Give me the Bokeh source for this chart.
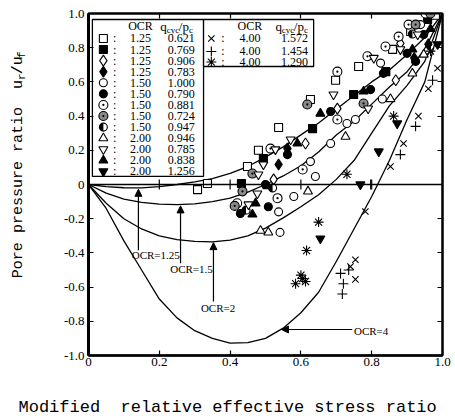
import numpy as np
from bokeh.plotting import figure
from bokeh.layouts import column, row
from bokeh.models import (Range1d, LinearAxis, FixedTicker, CustomJSTickFormatter,
                          Span, Label, Arrow, NormalHead)
from bokeh.core.properties import value
from bokeh.embed import file_html
from bokeh.resources import INLINE

# ---------------- data ----------------
curve_x = [0, 0.05, 0.1, 0.15, 0.2, 0.25, 0.3, 0.35, 0.4, 0.45, 0.5,
           0.55, 0.6, 0.65, 0.7, 0.75, 0.8, 0.85, 0.9, 0.95, 1.0]
ocr125_y = [0, -0.012, -0.019, -0.02, -0.013, 0.0, 0.015, 0.035, 0.065, 0.105, 0.16,
            0.22, 0.29, 0.36, 0.44, 0.52, 0.60, 0.67, 0.76, 0.86, 1.0]
ocr150_y = [0, -0.05, -0.085, -0.105, -0.115, -0.118, -0.113, -0.1, -0.08, -0.045, 0.0,
            0.05, 0.11, 0.19, 0.29, 0.37, 0.47, 0.57, 0.66, 0.79, 1.0]
ocr200_y = [0, -0.11, -0.2, -0.26, -0.3, -0.322, -0.333, -0.335, -0.325, -0.3, -0.255,
            -0.195, -0.13, -0.06, 0.03, 0.14, 0.3, 0.46, 0.58, 0.72, 1.0]
ocr400_y = [0, -0.14, -0.33, -0.5, -0.67, -0.78, -0.855, -0.9, -0.928, -0.925, -0.9,
            -0.84, -0.75, -0.63, -0.45, -0.26, -0.07, 0.14, 0.38, 0.6, 1.0]

# series (OCR, q_cyc/p_c)
sq_open_x = [0.308, 0.336, 0.449, 0.48, 0.537, 0.627, 0.698, 0.763, 0.859, 0.91, 0.98]
sq_open_y = [-0.03, 0.006, 0.105, 0.2, 0.333, 0.497, 0.61, 0.69, 0.79, 0.895, 0.99]
sq_fill_x = [0.432, 0.494, 0.633, 0.749, 0.84, 0.958]
sq_fill_y = [0.006, 0.152, 0.327, 0.526, 0.66, 0.965]
dia_open_x = [0.523, 0.613, 0.703, 0.868, 0.881, 0.955]
dia_open_y = [0.03, 0.24, 0.444, 0.61, 0.825, 0.78]
dia_fill_x = [0.537, 0.562, 0.92, 0.96]
dia_fill_y = [0.117, 0.21, 0.74, 0.82]
circ_open_x = [0.541, 0.537, 0.58, 0.641, 0.627, 0.684, 0.73, 0.754, 0.83, 0.825, 0.938]
circ_open_y = [-0.28, -0.16, -0.07, 0.047, 0.134, 0.24, 0.357, 0.38, 0.5, 0.71, 0.935]
circ_fill_x = [0.429, 0.508, 0.5, 0.562, 0.684, 0.797, 0.833, 0.9, 0.924, 0.947]
circ_fill_y = [-0.17, -0.13, 0.0, 0.175, 0.427, 0.555, 0.65, 0.767, 0.72, 0.877]
circ_dot_x = [0.42, 0.534, 0.605, 0.514, 0.703, 0.703, 0.788, 0.839, 0.876, 0.904, 0.952]
circ_dot_y = [-0.11, -0.08, 0.088, 0.21, 0.38, 0.66, 0.75, 0.807, 0.865, 0.935, 1.0]
circ_shade_x = [0.435, 0.413, 0.463, 0.618, 0.777, 0.924, 0.966]
circ_shade_y = [-0.04, -0.125, 0.064, 0.468, 0.474, 0.935, 1.0]
circ_half_x = [0.445, 0.52, 0.915]
circ_half_y = [-0.15, -0.02, 0.88]
tri_up_x = [0.486, 0.508, 0.62, 0.726, 0.853, 0.915, 0.947]
tri_up_y = [-0.27, -0.28, -0.04, 0.28, 0.5, 0.65, 0.76]
tri_dn_x = [0.452, 0.477, 0.48, 0.494, 0.528, 0.571, 0.692, 0.79, 0.806, 0.881, 0.93]
tri_dn_y = [-0.117, -0.053, 0.058, 0.117, 0.205, 0.263, 0.526, 0.444, 0.74, 0.79, 0.877]
tri_up_fill_x = [0.463, 0.472, 0.505, 0.59, 0.655, 0.777, 0.915, 0.966]
tri_up_fill_y = [-0.175, -0.11, -0.01, 0.24, 0.415, 0.544, 0.79, 0.91]
tri_dn_fill_x = [0.655, 0.768, 0.82, 0.872, 0.986]
tri_dn_fill_y = [-0.316, 0.0, 0.193, 0.357, 0.82]
x_mark_x = [0.754, 0.74, 0.754, 0.782, 0.853, 0.89, 0.932, 0.96, 0.986]
x_mark_y = [-0.44, -0.48, -0.555, -0.158, 0.105, 0.24, 0.4, 0.56, 0.68]
plus_x = [0.712, 0.735, 0.72, 0.717, 0.797, 0.881, 0.924, 0.972]
plus_y = [-0.52, -0.5, -0.58, -0.64, 0.0, 0.175, 0.34, 0.61]
star_x = [0.6, 0.613, 0.585, 0.605, 0.616, 0.65, 0.73, 0.862, 0.966]
star_y = [-0.53, -0.567, -0.58, -0.55, -0.386, -0.22, 0.06, 0.4, 0.78]

legend1_ocr = [1.25, 1.25, 1.25, 1.25, 1.50, 1.50, 1.50, 1.50, 1.50, 2.00, 2.00, 2.00, 2.00]
legend1_q = [0.621, 0.769, 0.906, 0.783, 1.000, 0.790, 0.881, 0.724, 0.947, 0.946, 0.785, 0.838, 1.256]
legend2_ocr = [4.00, 4.00, 4.00]
legend2_q = [1.572, 1.454, 1.290]

x_ticks = [0, 0.2, 0.4, 0.6, 0.8, 1.0]
y_ticks = [-1.0, -0.8, -0.6, -0.4, -0.2, 0, 0.2, 0.4, 0.6, 0.8, 1.0]
zero_line_ticks = [0.2, 0.4, 0.6, 0.8]

x_title = "Modified\u00a0 relative effective stress ratio"
y_title_main = "Pore pressure ratio\u00a0 u"
y_title_tail = ["r", "/u", "f"]

# ---------------- main figure ----------------
p = figure(width=405, height=380, output_backend="svg", toolbar_location=None,
           x_range=Range1d(0, 1), y_range=Range1d(-1, 1),
           min_border_left=38, min_border_right=13, min_border_top=13, min_border_bottom=25,
           x_axis_type=None, y_axis_type=None)
p.grid.visible = False
p.outline_line_color = "black"
p.outline_line_width = 2
p.background_fill_color = "white"
p.border_fill_color = "white"

fmt = CustomJSTickFormatter(code="return tick == 0 ? '0' : tick.toFixed(1);")
blank = CustomJSTickFormatter(code="return '';")

def make_axis(ticks, formatter, lw):
    ax = LinearAxis(ticker=FixedTicker(ticks=ticks), formatter=formatter)
    ax.axis_line_width = lw
    ax.major_tick_in = 5
    ax.major_tick_out = 0
    ax.major_tick_line_width = 1.2
    ax.minor_tick_line_color = None
    ax.major_label_text_font = "Liberation Serif"
    ax.major_label_text_font_size = "13px"
    ax.major_label_text_color = "black"
    return ax

bax = make_axis(x_ticks, fmt, 2.5)
bax.major_label_standoff = 2
p.add_layout(bax, "below")
lax = make_axis(y_ticks, fmt, 3)
lax.major_label_standoff = 4
p.add_layout(lax, "left")
tax = make_axis(x_ticks, blank, 2)
tax.major_label_text_font_size = "0px"
p.add_layout(tax, "above")
rax = make_axis(y_ticks, blank, 2)
rax.major_label_text_font_size = "0px"
p.add_layout(rax, "right")

# zero line with tick marks
p.add_layout(Span(location=0, dimension="width", line_color="black", line_width=1.4))
p.scatter(zero_line_ticks, [0] * len(zero_line_ticks), marker="dash", angle=np.pi / 2,
          size=10, line_color="black", line_width=1.2)

# curves
for cy in (ocr125_y, ocr150_y, ocr200_y, ocr400_y):
    p.line(curve_x, cy, line_color="black", line_width=1.3)

# data markers
series = [
    (sq_open_x, sq_open_y, "square", "white", 8),
    (sq_fill_x, sq_fill_y, "square", "black", 8),
    (dia_open_x, dia_open_y, "diamond", "white", 11),
    (dia_fill_x, dia_fill_y, "diamond", "black", 11),
    (circ_open_x, circ_open_y, "circle", "white", 8),
    (circ_fill_x, circ_fill_y, "circle", "black", 8),
    (circ_dot_x, circ_dot_y, "circle_dot", "white", 9),
    (circ_shade_x, circ_shade_y, "circle_dot", "#8a8a8a", 9),
    (circ_half_x, circ_half_y, "circle", "white", 8),
    (tri_up_x, tri_up_y, "triangle", "white", 9),
    (tri_dn_x, tri_dn_y, "inverted_triangle", "white", 9),
    (tri_up_fill_x, tri_up_fill_y, "triangle", "black", 9),
    (tri_dn_fill_x, tri_dn_fill_y, "inverted_triangle", "black", 9),
    (x_mark_x, x_mark_y, "x", None, 9),
    (plus_x, plus_y, "cross", None, 10),
    (star_x, star_y, "asterisk", None, 10),
]
for sx, sy, mk, fc, sz in series:
    p.scatter(sx, sy, marker=mk, size=sz, fill_color=fc, line_color="black", line_width=1.1)
p.wedge(circ_half_x, circ_half_y, radius=4, radius_units="screen",
        start_angle=np.pi / 2, end_angle=3 * np.pi / 2, fill_color="black", line_color=None)

# ---------------- legend tables ----------------
p.quad(left=[0.011], right=[0.325], top=[0.965], bottom=[0.047],
       fill_color="white", line_color="black", line_width=1.3)
p.quad(left=[0.325], right=[0.636], top=[0.965], bottom=[0.69],
       fill_color="white", line_color="black", line_width=1.3)

row_y1 = [0.854 - 0.0648 * i for i in range(len(legend1_ocr))]
row_y2 = [0.854, 0.778, 0.716]
tf = value("Liberation Serif")
for i, (sx, sy, mk, fc, sz) in enumerate(series[:13]):
    p.scatter([0.042], [row_y1[i]], marker=mk, size=sz, fill_color=fc,
              line_color="black", line_width=1.1)
p.wedge([0.042], [row_y1[8]], radius=4, radius_units="screen",
        start_angle=np.pi / 2, end_angle=3 * np.pi / 2, fill_color="black", line_color=None)
for i, (sx, sy, mk, fc, sz) in enumerate(series[13:]):
    p.scatter([0.347], [row_y2[i]], marker=mk, size=sz, fill_color=fc,
              line_color="black", line_width=1.1)

def table_text(xs, ys, texts, align="center"):
    p.text(xs, ys, text=texts, text_font=tf, text_font_size="12px",
           text_align=align, text_baseline="middle", text_color="black")

table_text([0.074] * 13, row_y1, [":"] * 13)
table_text([0.147] * 13, row_y1, [f"{v:.2f}" for v in legend1_ocr])
table_text([0.262] * 13, row_y1, [f"{v:.3f}" for v in legend1_q])
table_text([0.38] * 3, row_y2, [":"] * 3)
table_text([0.456] * 3, row_y2, [f"{v:.2f}" for v in legend2_ocr])
table_text([0.582] * 3, row_y2, [f"{v:.3f}" for v in legend2_q])

def lab(fig, x, y, text, size="12px", font="Liberation Serif", align="left", angle=0,
        baseline="middle"):
    fig.add_layout(Label(x=x, y=y, text=text, text_font=font, text_font_size=size,
                         text_align=align, text_baseline=baseline, angle=angle,
                         text_color="black"))

for ocr_x, q_x in ((0.147, 0.203), (0.456, 0.528)):
    lab(p, ocr_x, 0.924, "OCR", size="12px", align="center")
    lab(p, q_x, 0.924, "q", size="13px")
    lab(p, q_x + 0.018, 0.905, "cyc", size="9px")
    lab(p, q_x + 0.052, 0.924, "/p", size="13px")
    lab(p, q_x + 0.081, 0.905, "c", size="9px")

# ---------------- curve annotations ----------------
def arrow(x0, y0, x1, y1):
    p.add_layout(Arrow(end=NormalHead(size=7, fill_color="black", line_color="black"),
                       x_start=x0, y_start=y0, x_end=x1, y_end=y1,
                       line_color="black", line_width=1.2))

arrow(0.141, -0.385, 0.141, -0.028)
lab(p, 0.19, -0.41, "OCR=1.25", size="11px", align="center")
arrow(0.26, -0.46, 0.26, -0.125)
lab(p, 0.291, -0.497, "OCR=1.5", size="11px", align="center")
arrow(0.353, -0.684, 0.353, -0.34)
lab(p, 0.366, -0.725, "OCR=2", size="11px", align="center")
arrow(0.745, -0.848, 0.545, -0.848)
lab(p, 0.75, -0.854, "OCR=4", size="11px", align="left")

# ---------------- axis-title strips (pixel coordinates) ----------------
mono = "Liberation Mono"

fy = figure(width=50, height=380, output_backend="svg", toolbar_location=None,
            x_range=Range1d(0, 50), y_range=Range1d(0, 380),
            min_border=0, x_axis_type=None, y_axis_type=None)
fy.grid.visible = False
fy.outline_line_color = None
big, small = 15, 11
junction = 306          # end of "...u" measured from the strip's bottom
lab(fy, 18, junction, y_title_main, size=f"{big}px", font=mono, align="right", angle=np.pi / 2)
w_sub = 0.6 * small
w_big = 0.6 * big
lab(fy, 21.5, junction, y_title_tail[0], size=f"{small}px", font=mono, angle=np.pi / 2)
lab(fy, 18, junction + w_sub, y_title_tail[1], size=f"{big}px", font=mono, angle=np.pi / 2)
lab(fy, 21.5, junction + w_sub + 2 * w_big, y_title_tail[2], size=f"{small}px", font=mono,
    angle=np.pi / 2)

fx = figure(width=455, height=39, output_backend="svg", toolbar_location=None,
            x_range=Range1d(0, 455), y_range=Range1d(0, 39),
            min_border=0, x_axis_type=None, y_axis_type=None)
fx.grid.visible = False
fx.outline_line_color = None
lab(fx, 18, 12, x_title, size="17px", font=mono)

layout = column(row(fy, p, spacing=0), fx, spacing=0)
open("out.html", "w").write(file_html(layout, INLINE))
